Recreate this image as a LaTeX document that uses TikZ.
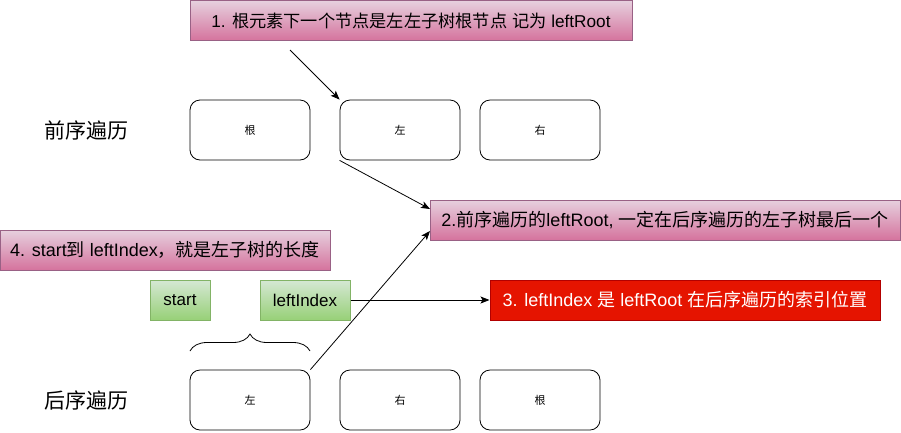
\documentclass[tikz,border=0pt]{standalone}
\usepackage{fontspec}
\setmainfont{Liberation Sans}
\newfontfamily\cjk{Noto Sans CJK SC}
\usetikzlibrary{decorations.pathreplacing,arrows.meta}
\definecolor{pinktop}{HTML}{E6D0DE}
\definecolor{pinkbot}{HTML}{D5739D}
\definecolor{pinkst}{HTML}{996185}
\definecolor{greentop}{HTML}{D5E8D4}
\definecolor{greenbot}{HTML}{97D077}
\definecolor{greenst}{HTML}{82B366}
\definecolor{redfill}{HTML}{E51400}
\definecolor{redst}{HTML}{B20000}
\tikzset{
  note/.style={draw=pinkst, top color=pinktop, bottom color=pinkbot, line width=1pt,
    inner sep=0pt, minimum height=40pt, font=\fontsize{18}{21}\selectfont},
  greenbox/.style={draw=greenst, top color=greentop, bottom color=greenbot, line width=1pt,
    inner sep=0pt, minimum height=40pt, font=\fontsize{17}{20}\selectfont},
  redbox/.style={draw=redst, fill=redfill, text=white, line width=1pt,
    inner sep=0pt, minimum height=40pt, font=\fontsize{18}{21}\selectfont},
  cell/.style={draw, line width=0.8pt, rounded corners=10pt, minimum width=120pt,
    minimum height=60pt, inner sep=0pt, font=\fontsize{11}{13}\selectfont\cjk},
  rowlabel/.style={font=\fontsize{21}{24}\selectfont\cjk, inner sep=0pt},
  arr/.style={line width=0.8pt, -{Stealth[length=9pt,width=7pt,inset=2pt]}},
  plain/.style={line width=0.8pt}
}
\begin{document}
\begin{tikzpicture}[x=1pt,y=-1pt]
\useasboundingbox (0,0) rectangle (901,432);
% notes
\node[note, minimum width=442pt, font=\fontsize{17.2}{20}\selectfont] (n1) at (411,20.5) {1. {\cjk 根元素下一个节点是左左子树根节点} {\cjk 记为} leftRoot};
\node[note, minimum width=470pt] (n2) at (665,220) {2.{\cjk 前序遍历的}leftRoot, {\cjk 一定在后序遍历的左子树最后一个}};
\node[note, minimum width=330pt] (n4) at (165,250) {4. start{\cjk 到} leftIndex{\cjk ，就是左子树的长度}};
\node[redbox, minimum width=390pt] (n3) at (685,300) {3. leftIndex {\cjk 是} leftRoot {\cjk 在后序遍历的索引位置}};
% green
\node[greenbox, minimum width=60pt] (start) at (180,300) {start};
\node[greenbox, minimum width=90pt] (li) at (305,300) {leftIndex};
% row labels
\node[rowlabel] (pre) at (86,130) {前序遍历};
\node[rowlabel] (post) at (86,400) {后序遍历};
% cells
\node[cell] (pg) at (250,130) {根};
\node[cell] (pl) at (400,130) {左};
\node[cell] (pr) at (540,130) {右};
\node[cell] (ql) at (250,400) {左};
\node[cell] (qr) at (400,400) {右};
\node[cell] (qg) at (540,400) {根};
% connectors
\coordinate (a1s) at (290,50);
\coordinate (n2a) at (430,209);
\coordinate (n2b) at (430,231);
\draw[arr] (a1s) -- (pl.north west);
\draw[arr] (pl.south west) -- (n2a);
\draw[arr] (ql.north east) -- (n2b);
\draw[arr] (li.east) -- (n3.west);
% brace
\coordinate (b1) at (190,351);
\coordinate (b2) at (310,351);
\draw[plain, decorate, decoration={brace, amplitude=17pt}] (b1) -- (b2);
\end{tikzpicture}
\end{document}
